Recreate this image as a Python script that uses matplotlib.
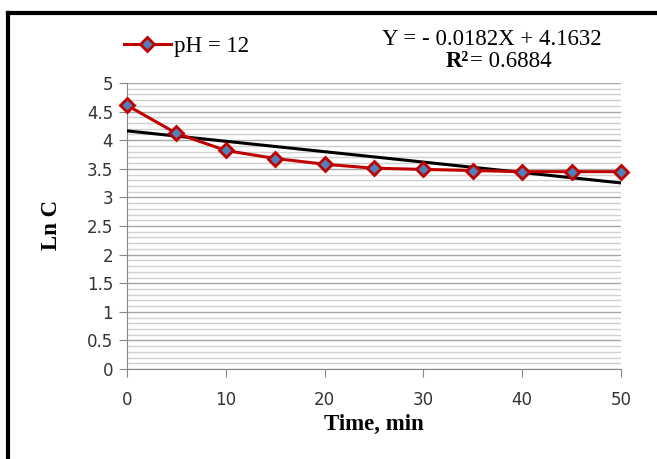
import matplotlib
matplotlib.use("Agg")
import matplotlib.pyplot as plt
import numpy as np
from matplotlib.ticker import MultipleLocator
from matplotlib.lines import Line2D

time_min = [0, 5, 10, 15, 20, 25, 30, 35, 40, 45, 50]
ln_c = [4.61, 4.12, 3.82, 3.68, 3.58, 3.51, 3.49, 3.47, 3.45, 3.45, 3.45]
slope = -0.0182
intercept = 4.1632
r2 = 0.6884
series_label = "pH = 12"
y_ticks = [0, 0.5, 1, 1.5, 2, 2.5, 3, 3.5, 4, 4.5, 5]
x_ticks = [0, 10, 20, 30, 40, 50]

SERIF = "Liberation Serif"
TICKFONT = "DejaVu Sans"

fig = plt.figure(figsize=(6.57, 4.59), dpi=100)
ax = fig.add_axes([0.1933, 0.196, 0.7519, 0.6232])

# Gridlines
ax.yaxis.set_minor_locator(MultipleLocator(0.1))
ax.grid(which="minor", axis="y", color="#d0d0d0", lw=1.0)
ax.grid(which="major", axis="y", color="#a6a6a6", lw=1.0)
ax.set_axisbelow(True)

# trend line
xt = np.array([min(time_min), max(time_min)])
ax.plot(xt, intercept + slope * xt, color="black", lw=2.2, zorder=3)

# data
ax.plot(time_min, ln_c, color="#c00000", lw=2.2, marker="D", ms=7.5,
        mfc="#4f81bd", mec="#c00000", mew=2.0, zorder=4, clip_on=False)

ax.set_xlim(0, 50)
ax.set_ylim(0, 5)
for s in ["top", "right"]:
    ax.spines[s].set_visible(False)
for s in ["left", "bottom"]:
    ax.spines[s].set_color("#888888")
ax.set_yticks(y_ticks)
ax.set_yticklabels([f"{v:g}" for v in y_ticks], family=TICKFONT)
ax.set_xticks(x_ticks)
ax.set_xticklabels([f"{v:g}" for v in x_ticks], family=TICKFONT)
ax.tick_params(axis="both", which="major", colors="#888888", labelcolor="#333333",
               labelsize=12, length=6)
ax.tick_params(axis="y", which="minor", length=0)
ax.tick_params(axis="y", pad=4)
ax.tick_params(axis="x", pad=10)

ax.set_xlabel("Time, min", family=SERIF, fontweight="bold", fontsize=16.5)
ax.set_ylabel("Ln C", family=SERIF, fontweight="bold", fontsize=16.5)
ax.xaxis.set_label_coords(0.5, -0.158)
ax.yaxis.set_label_coords(-0.132, 0.503)

# legend
handle = Line2D([], [], color="#c00000", lw=2.2, marker="D", ms=7.5,
                mfc="#4f81bd", mec="#c00000", mew=2.0)
fig.legend([handle], [series_label], loc="center left", bbox_to_anchor=(0.157, 0.898),
           frameon=False, prop={"family": SERIF, "size": 16.5},
           handlelength=2.05, handletextpad=0.12)

# equation
fig.text(0.748, 0.913, f"Y = - {abs(slope):.4f}X + {intercept:.4f}", ha="center", va="center",
         family=SERIF, fontsize=16.5)
fig.text(0.713, 0.865, "R²", ha="right", va="center",
         family=SERIF, fontsize=16.5, fontweight="bold")
fig.text(0.716, 0.865, f"= {r2:.4f}", ha="left", va="center",
         family=SERIF, fontsize=16.5)

# frame
fig.add_artist(Line2D([0.0125, 0.0125], [0.0, 0.972], color="black", lw=3, transform=fig.transFigure))
fig.add_artist(Line2D([0.0125, 1.0], [0.972, 0.972], color="black", lw=3, transform=fig.transFigure))

fig.savefig("out.png", dpi=100)
